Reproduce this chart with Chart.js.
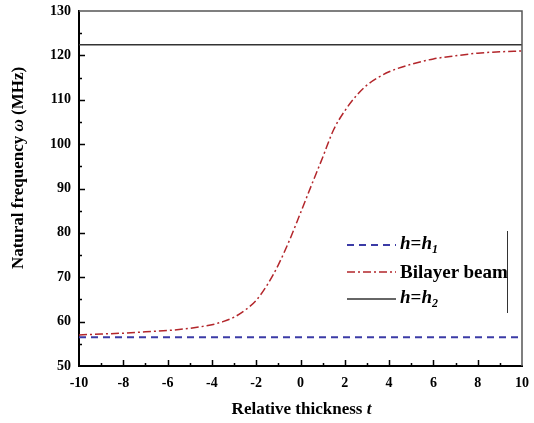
<!DOCTYPE html>
<html>
<head>
<meta charset="utf-8">
<title>Natural frequency vs relative thickness</title>
<script src="https://cdn.jsdelivr.net/npm/chart.js@4.4.0/dist/chart.umd.min.js"></script>
<style>
  html, body { margin: 0; padding: 0; background: #fff; }
  #wrap { position: relative; width: 534px; height: 423px; }
  #legend {
    position: absolute; left: 347px; top: 231px; width: 160px; height: 82px;
    border-right: 1.5px solid #333;
    font: bold 19px "Liberation Serif", "Times New Roman", serif; color: #000;
  }
  #legend .row { display: flex; align-items: center; height: 27px; white-space: nowrap; }
  #legend svg { margin-right: 4px; flex: none; }
  #legend sub { font-size: 12px; vertical-align: -4px; }
</style>
</head>
<body>
<div id="wrap">
  <canvas id="freqChart" width="534" height="423"></canvas>
  <div id="legend"></div>
</div>
<script>
// Relative thickness t and natural frequency (MHz)
const thickness = [-10, -9, -8, -7, -6, -5, -4, -3.5, -3, -2.5, -2, -1.5, -1, -0.5,
                   0, 0.5, 1, 1.5, 2, 2.5, 3, 3.5, 4, 5, 6, 7, 8, 9, 10];
const bilayerFreq = [57.0, 57.2, 57.4, 57.7, 58.0, 58.5, 59.3, 60.0, 61.0, 62.6, 64.8, 68.3, 72.8, 78.3,
                     84.5, 90.8, 97.0, 103.3, 107.5, 110.8, 113.3, 115.0, 116.3, 118.0, 119.2, 119.9, 120.5, 120.8, 121.0];
const h1Freq = 56.5;   // homogeneous beam, h = h1
const h2Freq = 122.4;  // homogeneous beam, h = h2
const tRange = [-10, 10];
const freqRange = [50, 130];

const legendHtml = [
    '<i>h</i>=<i>h</i><sub><i>1</i></sub>',
    'Bilayer beam',
    '<i>h</i>=<i>h</i><sub><i>2</i></sub>'
];

const FONT = '"Liberation Serif", "Times New Roman", serif';

// Draw a line of text made of plain and italic pieces, centred on (cx, cy)
function drawRich(ctx, parts, cx, cy, size, angle) {
    ctx.save();
    ctx.translate(cx, cy);
    ctx.rotate(angle);
    ctx.textBaseline = 'middle';
    ctx.fillStyle = '#000';
    let total = 0;
    parts.forEach(p => {
        ctx.font = (p.italic ? 'italic ' : '') + 'bold ' + size + 'px ' + FONT;
        p.w = ctx.measureText(p.text).width;
        total += p.w;
    });
    let x = -total / 2;
    parts.forEach(p => {
        ctx.font = (p.italic ? 'italic ' : '') + 'bold ' + size + 'px ' + FONT;
        ctx.fillText(p.text, x, 0);
        x += p.w;
    });
    ctx.restore();
}

// Frame on top/right, inward tick marks and axis titles
const frameAndTicks = {
    id: 'frameAndTicks',
    afterDraw(chart) {
        const { ctx, chartArea: a, scales: { x, y } } = chart;
        ctx.save();
        ctx.strokeStyle = '#555';
        ctx.lineWidth = 1.5;
        ctx.beginPath();
        ctx.moveTo(a.left, a.top);
        ctx.lineTo(a.right, a.top);
        ctx.lineTo(a.right, a.bottom);
        ctx.stroke();

        ctx.strokeStyle = '#000';
        ctx.lineWidth = 1.5;
        ctx.beginPath();
        for (let v = tRange[0] + 1; v < tRange[1]; v++) {
            const px = Math.round(x.getPixelForValue(v)) + 0.5;
            const len = v % 2 === 0 ? 6 : 3;
            ctx.moveTo(px, a.bottom);
            ctx.lineTo(px, a.bottom - len);
        }
        for (let v = freqRange[0] + 5; v < freqRange[1]; v += 5) {
            const py = Math.round(y.getPixelForValue(v)) + 0.5;
            const len = v % 10 === 0 ? 6 : 3;
            ctx.moveTo(a.left, py);
            ctx.lineTo(a.left + len, py);
        }
        ctx.stroke();
        ctx.restore();

        drawRich(ctx, [{ text: 'Relative thickness ' }, { text: 't', italic: true }],
                 (a.left + a.right) / 2 + 1, 410, 17, 0);
        drawRich(ctx, [{ text: 'Natural frequency ' }, { text: 'ω', italic: true }, { text: ' (MHz)' }],
                 19, 168, 17, -Math.PI / 2);
    }
};

document.addEventListener('DOMContentLoaded', function() {
    const canvas = document.getElementById('freqChart');
    const ctx = canvas.getContext('2d');

    const datasets = [
        {
            label: 'h=h1',
            data: tRange.map(t => ({ x: t, y: h1Freq })),
            borderColor: '#3b3ba6',
            borderWidth: 2,
            borderDash: [7, 5],
        },
        {
            label: 'Bilayer beam',
            data: thickness.map((t, i) => ({ x: t, y: bilayerFreq[i] })),
            borderColor: '#b3262b',
            borderWidth: 1.5,
            borderDash: [8, 3, 2, 3],
            cubicInterpolationMode: 'monotone',
        },
        {
            label: 'h=h2',
            data: tRange.map(t => ({ x: t, y: h2Freq })),
            borderColor: '#333',
            borderWidth: 1.5,
            borderDash: [],
        }
    ];

    const tickFont = { family: FONT, size: 14, weight: 'bold' };

    new Chart(ctx, {
        type: 'line',
        data: { datasets: datasets.map(d => Object.assign({ pointRadius: 0, fill: false }, d)) },
        options: {
            responsive: false,
            animation: false,
            layout: { padding: { top: 11, right: 12, left: 0, bottom: 0 } },
            scales: {
                x: {
                    type: 'linear',
                    min: tRange[0],
                    max: tRange[1],
                    afterFit: s => { s.height = 57; s.paddingLeft = 0; s.paddingRight = 0; },
                    ticks: { stepSize: 2, padding: 9, color: '#000', font: tickFont, maxRotation: 0 },
                    grid: { drawOnChartArea: false, drawTicks: false },
                    border: { display: true, color: '#000', width: 2 }
                },
                y: {
                    min: freqRange[0],
                    max: freqRange[1],
                    afterFit: s => { s.width = 79; s.paddingTop = 0; s.paddingBottom = 0; },
                    ticks: { stepSize: 10, padding: 8, color: '#000', font: tickFont },
                    grid: { drawOnChartArea: false, drawTicks: false },
                    border: { display: true, color: '#000', width: 2 }
                }
            },
            plugins: {
                legend: { display: false },
                tooltip: { enabled: false }
            }
        },
        plugins: [frameAndTicks]
    });

    // Legend with italic labels and subscripts
    const legend = document.getElementById('legend');
    datasets.forEach((d, i) => {
        const row = document.createElement('div');
        row.className = 'row';
        const dash = d.borderDash.length ? d.borderDash.join(' ') : 'none';
        row.innerHTML =
            '<svg width="49" height="6"><line x1="0" y1="3" x2="49" y2="3" stroke="' + d.borderColor +
            '" stroke-width="' + d.borderWidth + '" stroke-dasharray="' + dash + '"/></svg>' +
            '<span>' + legendHtml[i] + '</span>';
        legend.appendChild(row);
    });
});
</script>
</body>
</html>
